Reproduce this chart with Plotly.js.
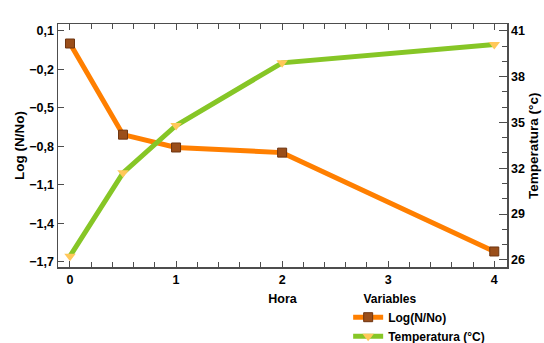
<!DOCTYPE html>
<html><head><meta charset="utf-8">
<script src="https://cdn.plot.ly/plotly-3.0.1.min.js"></script>
<style>html,body{margin:0;padding:0;background:#fff;}</style>
</head><body>
<div id="chart" style="width:544px;height:343px;"></div>
<script>
const hours = [0, 0.5, 1, 2, 4];
const logNNo = [0.0, -0.71, -0.81, -0.85, -1.62];
const temperatura = [26.25, 31.7, 34.8, 38.9, 40.1];
const leftTicks = [0.1, -0.2, -0.5, -0.8, -1.1, -1.4, -1.7];
const rightTicks = [26, 29, 32, 35, 38, 41];
const xTicks = [0, 1, 2, 3, 4];

const fontFam = 'Liberation Sans, Arial, sans-serif';
const axCol = '#4d4d4d';

const traces = [
  {x: hours, y: logNNo, name: 'Log(N/No)', type: 'scatter', mode: 'lines+markers',
   line: {color: '#ff7f00', width: 5},
   marker: {symbol: 'square', size: 9, color: '#9a4e1a', line: {color: '#6e3410', width: 1}},
   yaxis: 'y'},
  {x: hours, y: temperatura, name: 'Temperatura (°C)', type: 'scatter', mode: 'lines+markers',
   line: {color: '#86c626', width: 5},
   marker: {symbol: 'triangle-down', size: 10, color: '#ffc85a'},
   yaxis: 'y2'}
];

const layout = {
  width: 544, height: 343,
  margin: {l: 58, r: 37, t: 24, b: 76, autoexpand: false},
  paper_bgcolor: '#fff', plot_bgcolor: '#fff',
  separators: ', ',
  font: {family: fontFam, size: 12, color: '#000'},
  showlegend: true,
  legend: {
    xref: 'container', yref: 'container',
    x: 0.64, xanchor: 'left', y: 0.163, yanchor: 'top',
    font: {family: fontFam, size: 12, color: '#000', weight: 'bold'},
    title: {text: '<b>&nbsp;&nbsp;&nbsp;&nbsp;Variables</b>', side: 'top', font: {family: fontFam, size: 12, color: '#000'}},
    bgcolor: 'rgba(0,0,0,0)', tracegroupgap: 0, itemwidth: 30
  },
  annotations: [{
    text: '<b>Temperatura (°c)</b>', xref: 'paper', yref: 'paper',
    x: 1.059, y: 0.5, xanchor: 'center', yanchor: 'middle', textangle: -90,
    showarrow: false, font: {family: fontFam, size: 13.5, color: '#000'}
  }],
  xaxis: {
    range: [-0.113, 4.12], tickvals: xTicks, ticktext: xTicks.map(String),
    showgrid: false, zeroline: false, showline: true, linecolor: axCol, linewidth: 1.5,
    mirror: 'ticks', ticks: 'inside', ticklen: 6, tickcolor: axCol, tickwidth: 1,
    minor: {dtick: 0.2, ticks: 'inside', ticklen: 5, tickcolor: axCol, showgrid: false},
    tickfont: {family: fontFam, size: 12.5, color: '#000', weight: 'bold'},
    title: {text: '<b>Hora</b>', font: {family: fontFam, size: 12.5, color: '#000'}, standoff: 8}
  },
  yaxis: {
    range: [-1.741, 0.152], tickvals: leftTicks, tickformat: '.1f',
    showgrid: false, zeroline: false, showline: true, linecolor: axCol, linewidth: 1.5,
    ticks: 'inside', ticklen: 6, tickcolor: axCol, tickwidth: 1,
    tickfont: {family: fontFam, size: 12.5, color: '#000', weight: 'bold'},
    title: {text: '<b>Log (N/No)</b>', font: {family: fontFam, size: 13.5, color: '#000'}, standoff: 1}
  },
  yaxis2: {
    overlaying: 'y', side: 'right', anchor: 'x',
    range: [25.54, 41.44], tickvals: rightTicks,
    showgrid: false, zeroline: false, showline: true, linecolor: axCol, linewidth: 1.5,
    ticks: 'inside', ticklen: 8, tickcolor: axCol, tickwidth: 1,
    minor: {dtick: 1, tick0: 26, ticks: 'inside', ticklen: 5, tickcolor: axCol, showgrid: false},
    tickfont: {family: fontFam, size: 12.5, color: '#000', weight: 'bold'}
  }
};

Plotly.newPlot('chart', traces, layout, {displayModeBar: false, staticPlot: true});
</script>
</body></html>
